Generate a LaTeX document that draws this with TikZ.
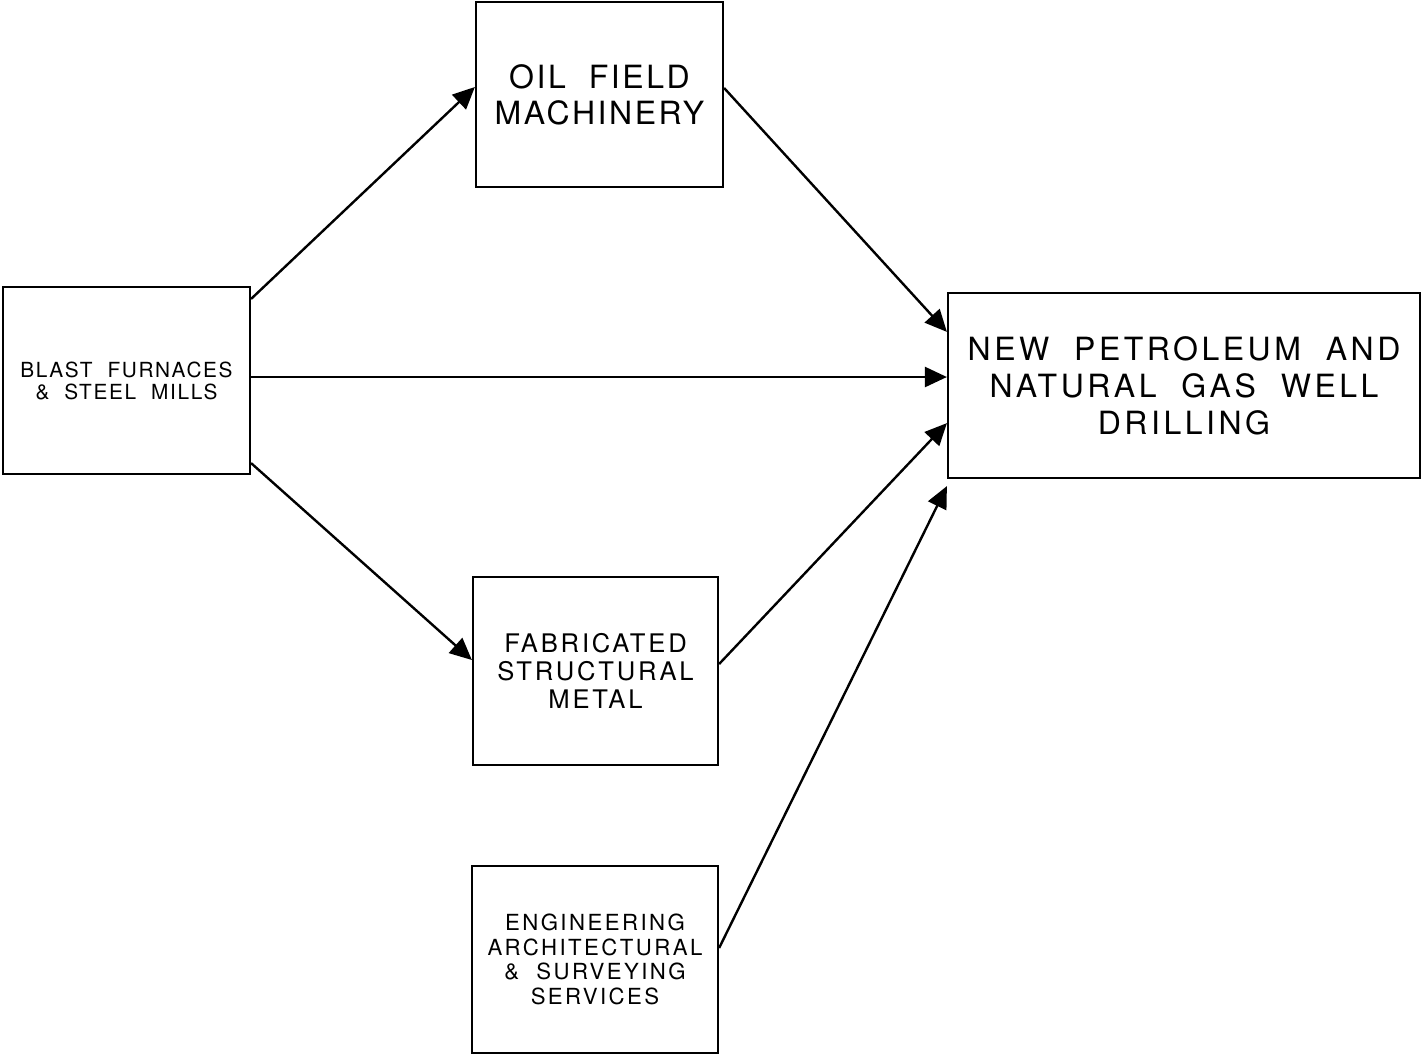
\documentclass[tikz,border=0pt]{standalone}
\usepackage{fontspec}
\setmainfont{TeX Gyre Heros}
\newfontfamily\narrowfont{TeX Gyre Heros}[LetterSpace=8, WordSpace=2]
\newfontfamily\boxfont{TeX Gyre Heros}[LetterSpace=11, WordSpace=2]
\newfontfamily\widefont{TeX Gyre Heros}[LetterSpace=11, WordSpace=2]
\usetikzlibrary{arrows.meta}
\usetikzlibrary{positioning}
\tikzset{block/.style={draw, line width=1.1pt, align=center, inner sep=0pt},
	flow/.style={-{Triangle[length=11pt,width=10pt]}, line width=1.2pt}}

\begin{document}
\begin{tikzpicture}[x=0.5pt, y=-0.5pt]
\useasboundingbox (0,0) rectangle (1423,1057);

% left
\node[block, minimum width=123.5pt, minimum height=93.5pt, font=\narrowfont\fontsize{10.4}{11}\selectfont] (blast) at (126.5,380.5) {BLAST FURNACES\\\& STEEL MILLS};

% middle column
\node[block, minimum width=123.5pt, minimum height=92.5pt, font=\narrowfont\fontsize{16}{18}\selectfont] (oil) at (599.5,94.5) {OIL FIELD\\MACHINERY};
\node[block, minimum width=122.5pt, minimum height=94pt, font=\boxfont\fontsize{12.8}{14.2}\selectfont] (fab) at (595.5,671) {FABRICATED\\STRUCTURAL\\METAL};
\node[block, minimum width=123pt, minimum height=93.5pt, font=\boxfont\fontsize{11.1}{12.3}\selectfont] (eng) at (595,959.5) {ENGINEERING\\ARCHITECTURAL\\\& SURVEYING\\SERVICES};

% right
\node[block, minimum width=236pt, minimum height=92.5pt, font=\widefont\fontsize{16}{18.5}\selectfont] (new) at (1184,385.5) {NEW PETROLEUM AND\\NATURAL GAS WELL\\DRILLING};

% flows
\draw[flow] ([yshift=-6.5pt]blast.north east) -- ([yshift=3.75pt]oil.west);
\draw[flow] ([yshift=1.75pt]blast.east) -- ([yshift=4.25pt]new.west);
\draw[flow] ([yshift=6pt]blast.south east) -- ([yshift=5.5pt]fab.west);
\draw[flow] ([yshift=3.25pt]oil.east) -- ([yshift=-20pt]new.north west);
\draw[flow] ([yshift=3.5pt]fab.east) -- ([yshift=28pt]new.south west);
\draw[flow] ([yshift=5.75pt]eng.east) -- ([yshift=-3.5pt]new.south west);
\end{tikzpicture}
\end{document}
